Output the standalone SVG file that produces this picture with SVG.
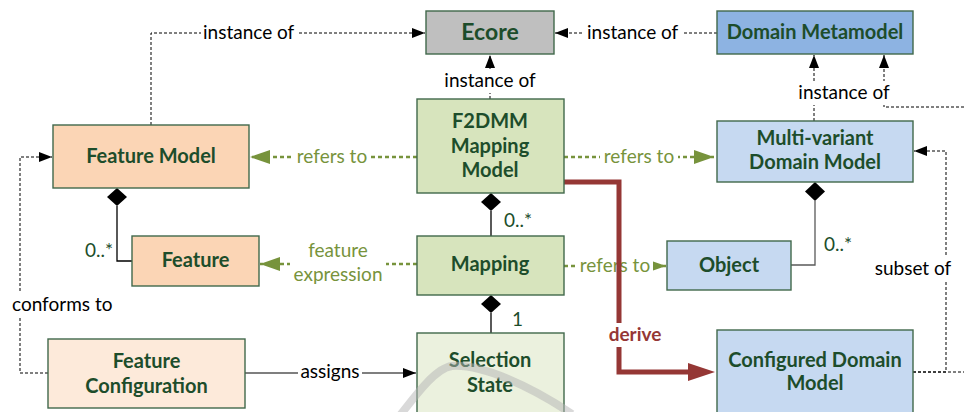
<svg xmlns="http://www.w3.org/2000/svg" width="964" height="412" viewBox="0 0 964 412">
  <style>
    .box { stroke: #41684b; stroke-width: 1.4; }
    .nt { font-family: Lato, "Open Sans", "Liberation Sans", sans-serif; font-weight: bold; font-size: 20px; fill: #1d4d2b; text-anchor: middle; }
    .lbl { font-family: Lato, "Open Sans", "Liberation Sans", sans-serif; font-size: 19px; fill: #000; }
    .glbl { font-family: Lato, "Open Sans", "Liberation Sans", sans-serif; font-size: 19px; fill: #77933c; }
    .mult { font-family: Lato, "Open Sans", "Liberation Sans", sans-serif; font-size: 19px; fill: #1d4d2b; }
    .dash { fill: none; stroke: #000; stroke-width: 1; stroke-dasharray: 3 2; }
    .gdash { fill: none; stroke: #77933c; stroke-width: 2.5; stroke-dasharray: 4 3; }
    .solid { fill: none; stroke: #000; stroke-width: 1.2; }
    .comp { fill: none; stroke: #000; stroke-width: 1.3; }
    .bg { fill: #fff; }
  </style>
  <defs>
    <marker id="ah" markerUnits="userSpaceOnUse" markerWidth="13" markerHeight="10" refX="13" refY="5" orient="auto">
      <path d="M0,0 L13,5 L0,10 Z" fill="#000"/>
    </marker>
    <marker id="ahg" markerUnits="userSpaceOnUse" markerWidth="20" markerHeight="14" refX="20" refY="7" orient="auto">
      <path d="M0,0 L20,7 L0,14 Z" fill="#77933c"/>
    </marker>
    <marker id="ahr" markerUnits="userSpaceOnUse" markerWidth="27" markerHeight="18" refX="2" refY="9" orient="auto">
      <path d="M0,0 L27,9 L0,18 Z" fill="#953735"/>
    </marker>
  </defs>

  <rect width="964" height="412" fill="#fff"/>

  <!-- connectors -->
  <g id="connectors">
    <!-- instance-of relations -->
    <path class="dash" d="M151,125 V33 H425" marker-end="url(#ah)"/>
    <path class="dash" d="M717,33 H555" marker-end="url(#ah)"/>
    <path class="dash" d="M490,99 V55" marker-end="url(#ah)"/>
    <path class="dash" d="M814,121 V55" marker-end="url(#ah)"/>
    <path class="dash" d="M964,107 H884 V55" marker-end="url(#ah)"/>
    <!-- subset of -->
    <path class="dash" d="M913,372 H964"/>
    <path class="dash" d="M913,372 H946 V151 H914" marker-end="url(#ah)"/>
    <!-- conforms to -->
    <path class="dash" d="M48,373 H20 V157 H52" marker-end="url(#ah)"/>
    <!-- assigns -->
    <path class="solid" d="M245,373 H416" marker-end="url(#ah)"/>
    <!-- refers to / feature expression -->
    <path class="gdash" d="M417,157 H250" marker-end="url(#ahg)"/>
    <path class="gdash" d="M564,157 H714" marker-end="url(#ahg)"/>
    <path class="gdash" d="M417,264 H260" marker-end="url(#ahg)"/>
    <path class="gdash" d="M564,266 H666" marker-end="url(#ahg)"/>
    <rect class="bg" x="577" y="256" width="76" height="20"/>
    <text class="glbl" x="615" y="272" text-anchor="middle">refers to</text>
    <!-- compositions -->
    <path class="comp" d="M117,206 V261 H132"/>
    <polygon points="117,188 127,197 117,206 107,197" fill="#000"/>
    <path class="comp" d="M491,211 V236"/>
    <polygon points="491,193 501,202 491,211 481,202" fill="#000"/>
    <path class="comp" d="M491,313 V333"/>
    <polygon points="491,295 501,304 491,313 481,304" fill="#000"/>
    <path class="comp" d="M815,201 V265 H791" style="stroke:#595959"/>
    <polygon points="815,182 825,191.5 815,201 805,191.5" fill="#000"/>
    <!-- derive -->
    <path d="M564,182 H619 V372 H690" fill="none" stroke="#953735" stroke-width="5" marker-end="url(#ahr)"/>

    <!-- labels -->
    <rect class="bg" x="201" y="24" width="96" height="18"/>
    <text class="lbl" x="203" y="39">instance of</text>
    <rect class="bg" x="584" y="24" width="98" height="18"/>
    <text class="lbl" x="587" y="39">instance of</text>
    <rect class="bg" x="442" y="70" width="96" height="23"/>
    <text class="lbl" x="490" y="87" text-anchor="middle">instance of</text>
    <rect class="bg" x="795" y="81" width="98" height="24"/>
    <text class="lbl" x="844" y="99" text-anchor="middle">instance of</text>
    <rect class="bg" x="872" y="256" width="82" height="24"/>
    <text class="lbl" x="913" y="275" text-anchor="middle">subset of</text>
    <rect class="bg" x="10" y="292" width="106" height="24"/>
    <text class="lbl" x="12" y="311">conforms to</text>
    <rect class="bg" x="298" y="364" width="64" height="20"/>
    <text class="lbl" x="330" y="378" text-anchor="middle">assigns</text>

    <rect class="bg" x="294" y="148" width="76" height="20"/>
    <text class="glbl" x="332" y="163" text-anchor="middle">refers to</text>
    <rect class="bg" x="600" y="148" width="78" height="20"/>
    <text class="glbl" x="639" y="163" text-anchor="middle">refers to</text>
    <rect class="bg" x="290" y="240" width="96" height="46"/>
    <text class="glbl" x="338" y="257" text-anchor="middle">feature</text>
    <text class="glbl" x="338" y="281" text-anchor="middle">expression</text>

    <text class="mult" x="113" y="257" text-anchor="end">0..*</text>
    <text class="mult" x="504" y="227">0..*</text>
    <text class="mult" x="512" y="326">1</text>
    <text class="mult" x="824" y="251">0..*</text>

    <rect class="bg" x="604" y="323" width="62" height="24"/>
    <text x="635" y="341" text-anchor="middle" style="font-family:Lato,'Open Sans','Liberation Sans',sans-serif;font-weight:bold;font-size:19px;fill:#953735">derive</text>
  </g>

  <!-- nodes -->
  <g id="ecore">
    <rect class="box" x="426" y="11" width="128" height="43" fill="#bfbfbf"/>
    <text class="nt" x="490" y="40" style="font-size:23px">Ecore</text>
  </g>
  <g id="domain-metamodel">
    <rect class="box" x="717" y="11" width="196" height="43" fill="#8db3e2"/>
    <text class="nt" x="815" y="39">Domain Metamodel</text>
  </g>
  <g id="feature-model">
    <rect class="box" x="53" y="125" width="196" height="63" fill="#fbd5b5"/>
    <text class="nt" x="151" y="163">Feature Model</text>
  </g>
  <g id="f2dmm-mapping-model">
    <rect class="box" x="417" y="99" width="147" height="94" fill="#d7e4bd"/>
    <text class="nt" x="490" y="128">F2DMM</text>
    <text class="nt" x="490" y="153">Mapping</text>
    <text class="nt" x="490" y="177">Model</text>
  </g>
  <g id="multi-variant-domain-model">
    <rect class="box" x="717" y="121" width="196" height="61" fill="#c6d9f1"/>
    <text class="nt" x="815" y="145">Multi-variant</text>
    <text class="nt" x="815" y="169">Domain Model</text>
  </g>
  <g id="feature">
    <rect class="box" x="132" y="236" width="127" height="50" fill="#fbd5b5"/>
    <text class="nt" x="195.5" y="267">Feature</text>
  </g>
  <g id="mapping">
    <rect class="box" x="417" y="236" width="147" height="59" fill="#d7e4bd"/>
    <text class="nt" x="490" y="271">Mapping</text>
  </g>
  <g id="object">
    <rect class="box" x="667" y="241" width="124" height="49" fill="#c6d9f1"/>
    <text class="nt" x="729" y="272">Object</text>
  </g>
  <g id="feature-configuration">
    <rect class="box" x="48" y="339" width="197" height="69" fill="#fdeada"/>
    <text class="nt" x="146.5" y="368">Feature</text>
    <text class="nt" x="146.5" y="393">Configuration</text>
  </g>
  <g id="selection-state">
    <rect class="box" x="417" y="333" width="147" height="90" fill="#ebf1de"/>
    <text class="nt" x="490" y="367">Selection</text>
    <text class="nt" x="490" y="392">State</text>
  </g>
  <g id="configured-domain-model">
    <rect class="box" x="717" y="330" width="196" height="90" fill="#c6d9f1"/>
    <text class="nt" x="815" y="367">Configured Domain</text>
    <text class="nt" x="815" y="390">Model</text>
  </g>

  <!-- faint grey arc across the bottom -->
  <path d="M398,418 C418,392 436,368 452,366 C482,364 530,386 572,414" fill="none" stroke="#b4b4b4" stroke-width="8" opacity="0.5"/>
</svg>
